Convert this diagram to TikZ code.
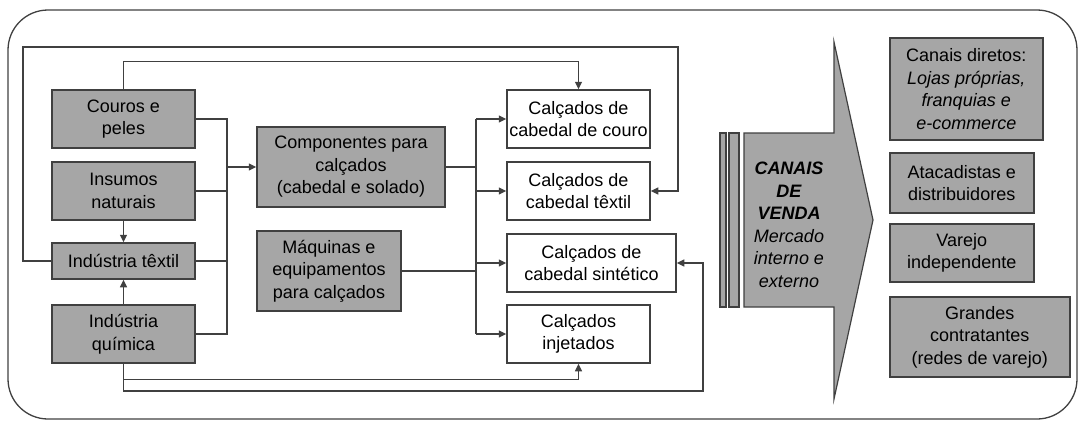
\documentclass[tikz,border=0pt]{standalone}
\usepackage{fontspec}
\setmainfont{Liberation Sans}
\usetikzlibrary{arrows.meta}

\begin{document}
\begin{tikzpicture}[x=1pt, y=-1pt, line join=miter,
    font=\fontsize{18}{22.5}\selectfont]

    \tikzset{%
      grey_box/.style  = {draw=black!75, fill=black!35, line width=1.5pt,
                          align=center, inner sep=1pt},
      white_box/.style = {grey_box, fill=white},
      link/.style      = {draw=black!75, line width=1.3pt},
      arrow/.style     = {link, -{Triangle[length=7.5pt,width=7pt]}}
    }
    \useasboundingbox (0,0) rectangle (1079,421);
    \draw[link, rounded corners=40pt] (8,10) rectangle (1077,419);

    % suppliers
    \node[grey_box, minimum width=143pt, minimum height=58pt] (couros)  at (123.5,119) {Couros e\\peles};
    \node[grey_box, minimum width=143pt, minimum height=58pt] (insumos) at (123.5,191) {Insumos\\naturais};
    \node[grey_box, minimum width=143pt, minimum height=36pt] (textil)  at (123.5,261) {Indústria têxtil};
    \node[grey_box, minimum width=143pt, minimum height=58pt] (quimica) at (123.5,334) {Indústria\\química};

    \node[grey_box, minimum width=188pt, minimum height=80pt] (comp) at (351,167) {Componentes para\\calçados\\(cabedal e solado)};
    \node[grey_box, minimum width=144pt, minimum height=80pt] (maq)  at (329,271) {Máquinas e\\equipamentos\\para calçados};

    % footwear
    \node[white_box, minimum width=143pt, minimum height=58pt] (fcouro)  at (578.5,119) {Calçados de\\cabedal de couro};
    \node[white_box, minimum width=143pt, minimum height=58pt] (ftextil) at (578.5,191) {Calçados de\\cabedal têxtil};
    \node[white_box, minimum width=169pt, minimum height=58pt] (fsint)   at (591.5,263) {Calçados de\\cabedal sintético};
    \node[white_box, minimum width=143pt, minimum height=58pt] (finj)    at (578.5,334) {Calçados\\injetados};

    % sales channels
    \node[grey_box, anchor=west, minimum width=153pt, minimum height=102pt] (diretos) at (889,89)
      {Canais diretos:\\\textit{Lojas próprias,}\\\textit{franquias e}\\\textit{e-commerce}};
    \node[grey_box, anchor=west, minimum width=144pt, minimum height=60pt] (atac)   at (889,183) {Atacadistas e\\distribuidores};
    \node[grey_box, anchor=west, minimum width=144pt, minimum height=58pt] (varejo) at (889,253) {Varejo\\independente};
    \node[grey_box, anchor=west, minimum width=180pt, minimum height=80pt] (grandes) at (889,337)
      {Grandes\\contratantes\\(redes de varejo)};

    % big arrow
    \draw[grey_box, line width=1.2pt] (720,133) rectangle (726,307);
    \draw[grey_box, line width=1.2pt] (729,133) rectangle (739,307);
    \draw[grey_box, line width=1.2pt]
      (744,133) -- (834,133) -- (834,42) -- (873,220) --
      (834,399) -- (834,307) -- (744,307) -- cycle;
    \node[align=center] (venda) at (789,225)
      {\textbf{\textit{CANAIS}}\\\textbf{\textit{DE}}\\\textbf{\textit{VENDA}}\\
       \textit{Mercado}\\\textit{interno e}\\\textit{externo}};

    % connectors
    \coordinate (b1) at (227,0);
    \coordinate (b2) at (476,0);
    \coordinate (tl) at (23,47);
    \coordinate (tr) at (678,47);
    \coordinate (br) at (703,391);

    \draw[arrow] (insumos) -- (textil);
    \draw[arrow] (quimica) -- (textil);

    \draw[link] (couros.east) -| (b1 |- quimica.east) -- (quimica.east);
    \draw[link] (insumos.east) -- (insumos.east -| b1);
    \draw[link] (textil.east) -- (textil.east -| b1);
    \draw[arrow] (comp.west -| b1) -- (comp.west);

    \draw[link] (comp.east) -- (comp.east -| b2);
    \draw[link, line width=2.2pt] (maq.east) -- (maq.east -| b2);
    \draw[link] (b2 |- fcouro.west) -- (b2 |- finj.west);
    \foreach \f in {fcouro, ftextil, fsint, finj}
      \draw[arrow] (b2 |- \f.west) -- (\f.west);

    \draw[arrow] (couros.north) -- ++(0,-28) -| (fcouro.north);
    \draw[arrow] (textil.west) -| (tl) -- (tr) |- (ftextil.east);
    \draw[arrow] (quimica.south) |- (br) |- (fsint.east);
    \draw[arrow] (quimica.south) -- ++(0,16) -| (finj.south);
\end{tikzpicture}
\end{document}
